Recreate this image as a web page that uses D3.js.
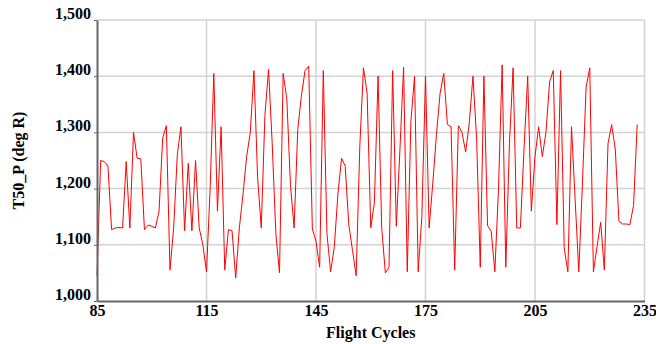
<!DOCTYPE html>
<html>
<head>
<meta charset="utf-8">
<script src="https://cdn.jsdelivr.net/npm/d3@7"></script>
<style>
  body { margin: 0; background: #fff; }
  svg text { font-family: "Liberation Serif", "Times New Roman", serif; font-weight: bold; fill: #000; }
</style>
</head>
<body>
<div id="chart"></div>
<script>
const MARGIN = {top: 20, right: 11.5, bottom: 43, left: 97};
const WIDTH = 656, HEIGHT = 344;

const firstCycle = 85;
const t50Values = [
  1045, 1250, 1248, 1240, 1127, 1130, 1131, 1130, 1248, 1130,
  1300, 1254, 1253, 1127, 1135, 1133, 1130, 1160, 1290, 1312,
  1055, 1130, 1260, 1310, 1125, 1245, 1125, 1250, 1130, 1100,
  1052, 1200, 1405, 1160, 1310, 1055, 1127, 1125, 1041, 1130,
  1190, 1257, 1300, 1410, 1220, 1130, 1330, 1412, 1280, 1120,
  1050, 1405, 1360, 1207, 1130, 1305, 1365, 1410, 1418, 1128,
  1106, 1060, 1410, 1120, 1052, 1095, 1190, 1254, 1240, 1135,
  1090, 1045, 1275, 1415, 1370, 1130, 1175, 1400, 1130, 1050,
  1060, 1410, 1133, 1270, 1416, 1052, 1320, 1400, 1052, 1150,
  1400, 1130, 1210, 1296, 1370, 1405, 1314, 1310, 1055, 1312,
  1300, 1265, 1317, 1400, 1290, 1060, 1400, 1134, 1124, 1052,
  1200, 1420, 1060, 1280, 1415, 1130, 1130, 1272, 1400, 1160,
  1257, 1310, 1257, 1300, 1390, 1410, 1136, 1410, 1095, 1052,
  1310, 1180, 1052, 1210, 1380, 1415, 1052, 1097, 1140, 1055,
  1280, 1314, 1270, 1142, 1137, 1137, 1136, 1170, 1314
];
const cycles = t50Values.map((_, i) => firstCycle + i);

const xTicks = [85, 115, 145, 175, 205, 235];
const yTicks = [1000, 1100, 1200, 1300, 1400, 1500];

const svg = d3.select('#chart')
    .append('svg')
    .attr('width', WIDTH)
    .attr('height', HEIGHT);

const width = WIDTH - MARGIN.left - MARGIN.right;
const height = HEIGHT - MARGIN.top - MARGIN.bottom;

const node = svg.append('g')
    .attr('transform', `translate(${MARGIN.left},${MARGIN.top})`);

const x = d3.scaleLinear().domain([85, 235]).range([0, width]);
const y = d3.scaleLinear().domain([1000, 1500]).range([height, 0]);

// grid
node.append('g')
    .selectAll('line')
    .data(yTicks.slice(1))
    .enter().append('line')
    .attr('x1', 0).attr('x2', width)
    .attr('y1', d => y(d)).attr('y2', d => y(d))
    .attr('stroke', '#d3d3d3').attr('stroke-width', 1.5);

node.append('g')
    .selectAll('line')
    .data(xTicks.slice(1))
    .enter().append('line')
    .attr('x1', d => x(d)).attr('x2', d => x(d))
    .attr('y1', 0).attr('y2', height)
    .attr('stroke', '#d3d3d3').attr('stroke-width', 1.5);

// series
const line = d3.line()
    .x(d => x(d[0]))
    .y(d => y(d[1]));

node.append('path')
    .datum(cycles.map((c, i) => [c, t50Values[i]]))
    .attr('fill', 'none')
    .attr('stroke', '#ff0000')
    .attr('stroke-width', 1)
    .attr('d', line);

// axes
const yAxis = node.append('g')
    .call(d3.axisLeft(y).tickValues(yTicks).tickFormat(d3.format(',')).tickSize(3).tickSizeOuter(0));
yAxis.select('.domain').attr('stroke', '#666').attr('stroke-width', 2);
yAxis.selectAll('.tick line').attr('stroke', '#666');
yAxis.selectAll('.tick text')
    .attr('x', -6)
    .attr('dy', '-0.1em')
    .style('font-size', '16px');

const xAxis = node.append('g')
    .attr('transform', `translate(0,${height})`)
    .call(d3.axisBottom(x).tickValues(xTicks).tickSize(0).tickSizeOuter(0));
xAxis.select('.domain').attr('stroke', '#666').attr('stroke-width', 2);
xAxis.selectAll('.tick text')
    .attr('y', 2)
    .attr('dy', '0.8em')
    .style('font-size', '16px');

svg.append('text')
    .attr('x', MARGIN.left + width / 2)
    .attr('y', 338)
    .attr('text-anchor', 'middle')
    .style('font-size', '16px')
    .text('Flight Cycles');

svg.append('text')
    .attr('transform', `translate(24,${MARGIN.top + height / 2}) rotate(-90)`)
    .attr('text-anchor', 'middle')
    .style('font-size', '16px')
    .text('T50_P (deg R)');
</script>
</body>
</html>
